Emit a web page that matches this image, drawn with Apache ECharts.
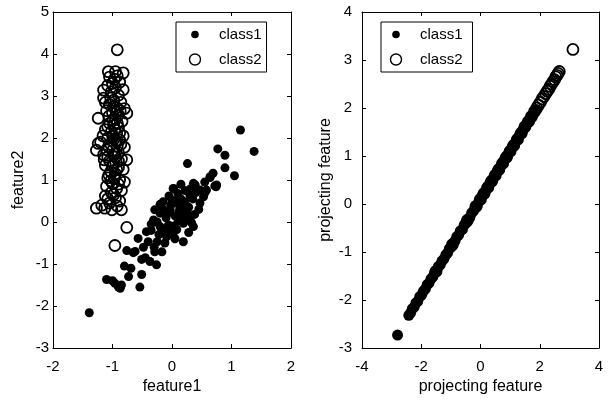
<!DOCTYPE html>
<html>
<head>
<meta charset="utf-8">
<script src="https://cdn.jsdelivr.net/npm/echarts@6/dist/echarts.min.js"></script>
<style>
  html, body { margin: 0; padding: 0; background: #fff; }
  #chart { width: 615px; height: 403px; }
</style>
</head>
<body>
<div id="chart"></div>
<script>
// left panel: the raw two features
const leftClass1 = [
    [1.15, 2.19], [1.38, 1.68], [0.77, 1.74], [0.89, 1.59], [0.26, 1.39], [0.89, 1.29],
    [1.05, 1.10], [0.69, 1.16], [0.64, 1.06], [0.74, 0.84], [0.36, 0.92], [0.47, 0.76],
    [0.55, 0.69], [0.47, 0.45], [0.03, 0.79], [0.30, 0.64], [-0.15, 0.48], [0.08, 0.52],
    [0.19, 0.36], [-0.03, 0.29], [-0.29, 0.29], [0.25, 0.21], [0.02, 0.80], [0.39, 0.88],
    [0.72, 0.86], [0.33, -0.02], [0.13, 0.36], [0.30, 0.05], [0.19, -0.03], [0.36, -0.11],
    [-1.39, -2.16], [-1.10, -1.37], [-0.96, -1.46], [-0.87, -1.58], [-0.85, -1.50], [-0.54, -1.55],
    [-0.69, -1.10], [-0.73, -1.30], [-0.51, -1.25], [-0.76, -0.68], [-0.65, -0.73], [-0.51, -0.89],
    [-0.37, -0.94], [-0.26, -1.02], [-0.57, -0.39], [-0.40, -0.47], [-0.25, -0.47], [-0.29, -0.71],
    [-0.17, -0.71], [-0.43, -0.23], [-0.31, 0.05], [-0.20, 0.21], [-0.06, -0.07], [0.02, -0.27],
    [0.19, -0.47], [-0.20, -0.11], [-0.09, -0.35], [0.53, 0.60], [0.58, 0.76], [0.64, 1.08],
    [0.75, 0.88], [-0.10, 0.10], [0.05, 0.15], [0.10, 0.02], [-0.02, 0.40], [0.15, 0.55],
    [0.22, 0.48], [-0.12, -0.20], [0.00, -0.10], [0.12, 0.25], [0.28, 0.35], [0.35, 0.55],
    [-0.25, 0.00], [-0.35, -0.20], [0.05, -0.40], [-0.90, -1.55], [-1.00, -1.40], [-0.80, -1.05],
    [-0.62, -0.70], [-0.45, -0.85], [-0.05, 0.62], [0.10, 0.68], [0.22, 0.75], [0.40, 0.70],
    [0.45, 0.30], [0.38, 0.18], [0.25, 0.05], [0.08, -0.18], [-0.15, 0.30], [-0.08, 0.20],
    [0.00, 0.52], [0.18, 0.12], [-0.22, -0.30], [-0.35, -0.05], [-0.12, -0.50], [0.28, -0.25],
    [0.10, 0.45], [-0.05, -0.22], [0.15, 0.90], [0.55, 0.95], [-0.30, -0.60], [-0.48, -0.60],
    [-0.20, 0.42], [0.32, 0.80]
];
const leftClass2 = [
    [-0.92, 4.10], [-1.07, 3.58], [-0.95, 3.58], [-0.82, 3.55], [-1.05, 3.45], [-0.97, 3.40],
    [-0.88, 3.33], [-1.08, 3.25], [-0.95, 3.20], [-0.82, 3.15], [-1.15, 3.14], [-1.02, 3.10],
    [-0.90, 3.02], [-1.15, 2.95], [-0.98, 2.90], [-0.86, 2.85], [-1.05, 2.80], [-0.93, 2.72],
    [-0.80, 2.70], [-1.10, 2.65], [-1.00, 2.60], [-0.76, 2.59], [-0.90, 2.55], [-1.24, 2.47],
    [-0.95, 2.45], [-0.84, 2.40], [-1.05, 2.35], [-0.98, 2.30], [-0.90, 2.25], [-1.12, 2.20],
    [-1.02, 2.15], [-0.93, 2.10], [-0.82, 2.05], [-1.08, 2.00], [-0.97, 1.98], [-0.88, 1.95],
    [-1.20, 1.90], [-1.24, 1.87], [-1.03, 1.85], [-0.92, 1.80], [-0.80, 1.78], [-1.27, 1.71],
    [-1.10, 1.72], [-1.00, 1.70], [-0.90, 1.65], [-1.15, 1.60], [-0.95, 1.55], [-0.76, 1.48],
    [-0.85, 1.50], [-1.05, 1.45], [-0.98, 1.40], [-1.12, 1.35], [-0.90, 1.30], [-0.82, 1.25],
    [-1.03, 1.20], [-0.95, 1.15], [-1.08, 1.05], [-0.88, 1.00], [-0.80, 0.95], [-1.00, 0.92],
    [-1.10, 0.85], [-0.93, 0.80], [-0.85, 0.75], [-1.02, 0.70], [-1.12, 0.62], [-0.95, 0.58],
    [-0.88, 0.50], [-1.05, 0.45], [-1.27, 0.33], [-1.18, 0.40], [-1.13, 0.33], [-1.01, 0.29],
    [-0.85, 0.29], [-0.92, 0.38], [-0.76, -0.13], [-0.96, -0.56],
    [-1.00, 3.30], [-0.92, 3.48], [-1.03, 2.95], [-0.94, 2.62], [-1.06, 2.52], [-0.99, 2.42],
    [-0.92, 2.35], [-1.08, 2.27], [-0.96, 2.20], [-0.88, 2.12], [-1.00, 2.05], [-0.93, 1.92],
    [-1.06, 1.78], [-0.97, 1.62], [-1.08, 1.55], [-0.90, 1.45], [-1.00, 1.33], [-0.93, 1.25],
    [-1.06, 1.12], [-0.97, 1.05], [-0.90, 0.90], [-1.03, 0.98], [-0.98, 0.65], [-1.08, 0.55],
    [-0.98, 2.75], [-0.87, 2.65], [-1.12, 2.85], [-0.86, 1.85], [-1.14, 1.48], [-1.16, 2.05]
];

// right panel: both classes on the projecting feature
const projClass1 = [
    [-2.80, -2.73], [-2.42, -2.32], [-2.36, -2.27], [-2.30, -2.18], [-2.24, -2.15], [-2.18, -2.06],
    [-2.12, -2.03], [-2.05, -1.93], [-1.99, -1.90], [-1.93, -1.82], [-1.86, -1.77], [-1.80, -1.68],
    [-1.74, -1.65], [-1.67, -1.56], [-1.61, -1.52], [-1.55, -1.43], [-1.48, -1.39], [-1.42, -1.30],
    [-1.36, -1.27], [-1.30, -1.19], [-1.24, -1.15], [-1.17, -1.06], [-1.11, -1.02], [-1.05, -0.93],
    [-0.99, -0.90], [-0.92, -0.81], [-0.86, -0.77], [-0.80, -0.68], [-0.74, -0.65], [-0.68, -0.56],
    [-0.61, -0.53], [-0.55, -0.44], [-0.49, -0.40], [-0.43, -0.31], [-0.36, -0.28], [-0.30, -0.19],
    [-0.24, -0.15], [-0.18, -0.06], [-0.11, -0.03], [-0.05, 0.06], [0.01, 0.10], [0.07, 0.19],
    [0.14, 0.22], [0.20, 0.31], [0.26, 0.35], [0.32, 0.44], [0.39, 0.47], [0.45, 0.56],
    [0.51, 0.60], [0.57, 0.69], [0.64, 0.72], [0.70, 0.81], [0.76, 0.85], [0.82, 0.94],
    [0.89, 0.97], [0.95, 1.06], [1.01, 1.10], [1.07, 1.19], [1.14, 1.22], [1.20, 1.31],
    [1.26, 1.35], [1.32, 1.44], [1.39, 1.47], [1.45, 1.56], [1.51, 1.60], [1.57, 1.69],
    [1.64, 1.72], [1.70, 1.81], [1.76, 1.85], [1.82, 1.94], [1.89, 1.97]
];
const projClass2 = [
    [3.12, 3.22], [2.66, 2.76], [2.62, 2.72], [2.58, 2.68], [2.54, 2.65], [2.50, 2.59],
    [2.45, 2.55], [2.40, 2.50], [2.35, 2.45], [2.30, 2.39], [2.25, 2.35], [2.20, 2.30],
    [2.14, 2.24], [2.08, 2.19], [2.02, 2.12], [1.96, 2.06], [1.90, 2.00], [1.82, 1.92],
    [1.72, 1.82], [1.62, 1.72], [1.50, 1.61], [1.38, 1.48], [1.25, 1.35], [1.12, 1.22],
    [1.00, 1.10], [0.88, 0.98], [0.75, 0.85], [0.62, 0.72], [0.50, 0.60], [0.38, 0.48],
    [0.25, 0.35], [0.12, 0.22], [0.00, 0.10], [-0.15, -0.05], [-0.45, -0.35], [-0.95, -0.85],
    [-1.50, -1.40]
];

// axis ranges: [min, max, interval]
const leftX = [-2, 2, 1];
const leftY = [-3, 5, 1];
const projX = [-4, 4, 2];
const projY = [-3, 4, 1];

const FONT = 'Liberation Sans, Arial, Helvetica, sans-serif';

const svgIcon = body => 'image://data:image/svg+xml;charset=utf-8,' + encodeURIComponent(
    '<svg xmlns="http://www.w3.org/2000/svg" width="26" height="14">' + body + '</svg>');
const dotIcon = svgIcon('<circle cx="7" cy="7" r="3.8" fill="black"/>');
const ringIcon = svgIcon('<circle cx="7" cy="7" r="5.5" fill="none" stroke="black" stroke-width="1.4"/>');

const makeLegend = (left, padding) => ({
    orient: 'vertical',
    left: left,
    top: 22,
    padding: padding,
    itemWidth: 26,
    itemHeight: 14,
    itemGap: 10,
    borderColor: '#000',
    borderWidth: 1,
    backgroundColor: '#fff',
    selectedMode: false,
    textStyle: { fontFamily: FONT, fontSize: 15, color: '#000' },
    data: [
        { name: 'class1', icon: dotIcon },
        { name: 'class2', icon: ringIcon }
    ]
});

// bottom / left axes carry labels, top / right only mirror the ticks
const xAxis = (grid, range, name, pos) => ({
    type: 'value',
    gridIndex: grid,
    position: pos,
    min: range[0], max: range[1], interval: range[2],
    name: pos === 'bottom' ? name : '',
    nameLocation: 'middle',
    nameGap: 27,
    nameTextStyle: { fontFamily: FONT, fontSize: 16, color: '#000' },
    axisLine: { show: true, onZero: false, lineStyle: { color: '#000', width: 1 } },
    axisTick: { show: true, inside: true, length: 4, lineStyle: { color: '#000' } },
    axisLabel: { show: pos === 'bottom', margin: 11, fontFamily: FONT, fontSize: 15, color: '#000' },
    splitLine: { show: false }
});

const yAxis = (grid, range, name, pos, labelMargin, nameGap) => ({
    type: 'value',
    gridIndex: grid,
    position: pos,
    min: range[0], max: range[1], interval: range[2],
    name: pos === 'left' ? name : '',
    nameLocation: 'middle',
    nameGap: nameGap,
    nameTextStyle: { fontFamily: FONT, fontSize: 16, color: '#000' },
    axisLine: { show: true, onZero: false, lineStyle: { color: '#000', width: 1 } },
    axisTick: { show: true, inside: true, length: 4, lineStyle: { color: '#000' } },
    axisLabel: { show: pos === 'left', margin: labelMargin, fontFamily: FONT, fontSize: 15, color: '#000' },
    splitLine: { show: false }
});

const filled = (name, data, xi, yi, size) => ({
    name: name, type: 'scatter', xAxisIndex: xi, yAxisIndex: yi, data: data,
    symbol: 'circle', symbolSize: size,
    itemStyle: { color: '#000', opacity: 1 },
    emphasis: { disabled: true }
});

const ring = (name, data, xi, yi, size) => ({
    name: name, type: 'scatter', xAxisIndex: xi, yAxisIndex: yi, data: data,
    symbol: 'circle', symbolSize: size,
    itemStyle: { color: 'rgba(0,0,0,0)', borderColor: '#000', borderWidth: 1.8, opacity: 1 },
    emphasis: { disabled: true }
});

const chart = echarts.init(document.getElementById('chart'));
chart.setOption({
    animation: false,
    backgroundColor: '#fff',
    textStyle: { fontFamily: FONT },
    grid: [
        { left: 53, top: 12, width: 238, height: 336 },
        { left: 362, top: 12, width: 237, height: 336 }
    ],
    legend: [
        makeLegend(176, [5, 5, 5, 12]),
        makeLegend(381, [5, 10, 5, 8])
    ],
    xAxis: [
        xAxis(0, leftX, 'feature1', 'bottom'),
        xAxis(0, leftX, '', 'top'),
        xAxis(1, projX, 'projecting feature', 'bottom'),
        xAxis(1, projX, '', 'top')
    ],
    yAxis: [
        yAxis(0, leftY, 'feature2', 'left', 4, 26),
        yAxis(0, leftY, '', 'right', 4, 26),
        yAxis(1, projY, 'projecting feature', 'left', 10, 28),
        yAxis(1, projY, '', 'right', 4, 28)
    ],
    series: [
        filled('class1', leftClass1, 0, 0, 9),
        ring('class2', leftClass2, 0, 0, 11),
        filled('class1', projClass1, 2, 2, 11),
        ring('class2', projClass2, 2, 2, 11)
    ]
});
</script>
</body>
</html>
